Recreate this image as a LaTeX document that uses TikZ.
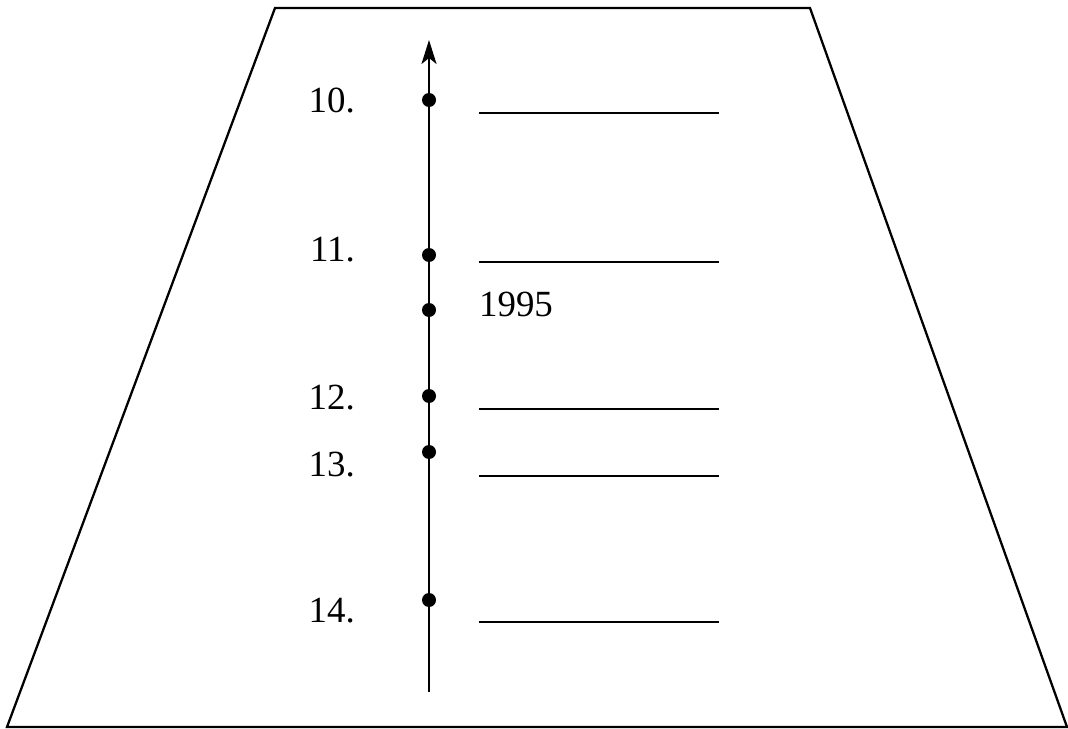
\documentclass[tikz,border=0pt]{standalone}
\usepackage{fontspec}
\setmainfont{Liberation Serif}
\usetikzlibrary{arrows.meta}
\begin{document}
\begin{tikzpicture}[x=0.02cm,y=-0.02cm,line width=1.3pt,
  blank/.style={line width=1.1pt},
  tick/.style={circle,fill,inner sep=0pt,minimum size=0.28cm},
  lbl/.style={font=\fontsize{21}{24}\selectfont,inner sep=0pt}]
\useasboundingbox (0,0) rectangle (1068,729);
\draw (7,727) -- (275,8) -- (810,8) -- (1067,727) -- cycle;
\coordinate (axbot) at (429,692); \coordinate (axtop) at (429,40);
\draw[-{Stealth[length=0.48cm,width=0.3cm,inset=0.12cm]}] (axbot) -- (axtop);
\foreach \Y/\L/\T in {100/113/10., 255/262/11., 396/409/12., 452/476/13., 600/622/14.} {
  \node[tick] (d\T) at (429,\Y) {};
  \node[lbl,anchor=base east] (n\T) at (356,\L) {\T};
  \draw[blank] (479,\L) -- (719,\L);
}
\node[tick] (dyear) at (429,310) {};
\node[lbl,anchor=base west] (year) at (478,317) {1995};
\end{tikzpicture}
\end{document}
